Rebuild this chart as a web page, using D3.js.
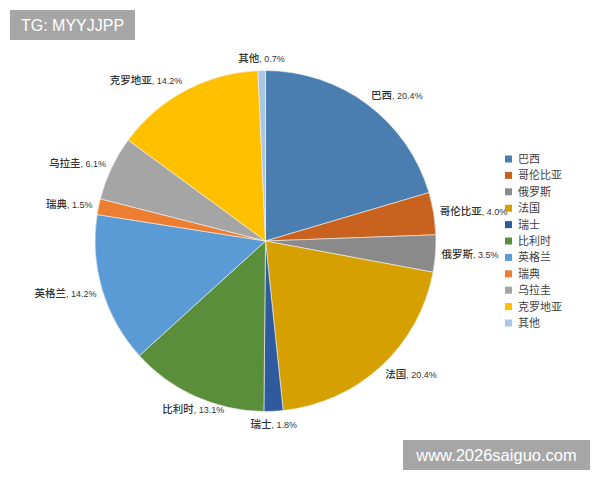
<!DOCTYPE html>
<html lang="zh">
<head>
    <meta charset="UTF-8">
    <title>Pie</title>
    <style>
        body { margin: 0; background: #fff; }
        svg { display: block; }
    </style>
</head>
<body>
    <svg id="chart" width="600" height="480"></svg>

    <script src="https://d3js.org/d3.v7.min.js"></script>
    <script>
        // chart data
        var countries = ['巴西', '哥伦比亚', '俄罗斯', '法国', '瑞士', '比利时', '英格兰', '瑞典', '乌拉圭', '克罗地亚', '其他'];
        var shares = [20.4, 4.0, 3.5, 20.4, 1.8, 13.1, 14.2, 1.5, 6.1, 14.2, 0.7];
        var colors = ['#4a7eb1', '#c9611f', '#8a8a8a', '#d6a100', '#2f5b9e', '#5a8e3a',
                      '#5b9bd5', '#ed7d31', '#a5a5a5', '#ffc000', '#a9c6e6'];

        var cjk = '"Noto Sans CJK SC", "Noto Sans", sans-serif';
        var latin = '"Liberation Sans", Arial, sans-serif';

        var svg = d3.select('#chart');
        var cx = 265.5, cy = 241, radius = 170.5;

        var pie = d3.pie().sort(null).value(function(d) { return d; });
        var arcs = pie(shares);
        var arc = d3.arc().innerRadius(0).outerRadius(radius);

        var g = svg.append('g')
            .attr('transform', 'translate(' + cx + ',' + cy + ')');

        g.selectAll('path')
            .data(arcs)
            .enter().append('path')
            .attr('d', arc)
            .attr('fill', function(d, i) { return colors[i]; })
            .attr('stroke', '#f4f4f4')
            .attr('stroke-width', 0.6);

        // data labels just outside the rim
        var pad = 6;
        g.selectAll('text.lbl')
            .data(arcs)
            .enter().append('text')
            .attr('class', 'lbl')
            .each(function(d, i) {
                var a = (d.startAngle + d.endAngle) / 2;
                var s = Math.sin(a), c = Math.cos(a);
                var x = (radius + pad) * s;
                var y = -(radius + pad) * c;
                var anchor = 'middle';
                if (s > 0.45) anchor = 'start';
                else if (s < -0.45) anchor = 'end';
                var dy;
                if (anchor === 'middle') dy = c > 0 ? -3 : 11;
                else dy = 3.5 - c * 5;
                var t = d3.select(this)
                    .attr('x', x)
                    .attr('y', y + dy)
                    .attr('text-anchor', anchor)
                    .attr('fill', '#333');
                t.append('tspan')
                    .style('font-family', cjk)
                    .style('font-size', '10.5px')
                    .style('font-weight', 500)
                    .text(countries[i]);
                t.append('tspan')
                    .style('font-family', latin)
                    .style('font-size', '9px')
                    .text(', ' + d3.format('.1f')(shares[i]) + '%');
            });

        // legend
        var legend = svg.append('g')
            .attr('transform', 'translate(505,159)');

        var item = legend.selectAll('g')
            .data(countries)
            .enter().append('g')
            .attr('transform', function(d, i) { return 'translate(0,' + (i * 16.4) + ')'; });

        item.append('rect')
            .attr('x', 0)
            .attr('y', -3.5)
            .attr('width', 7)
            .attr('height', 7)
            .attr('fill', function(d, i) { return colors[i]; });

        item.append('text')
            .attr('x', 13)
            .attr('y', 4)
            .style('font-family', cjk)
            .style('font-size', '11px')
            .attr('fill', '#404040')
            .text(function(d) { return d; });

        // watermark boxes
        svg.append('rect')
            .attr('x', 10).attr('y', 10)
            .attr('width', 125).attr('height', 30)
            .attr('fill', '#a6a6a6');
        svg.append('text')
            .attr('x', 72.5).attr('y', 31)
            .attr('text-anchor', 'middle')
            .style('font-family', latin)
            .style('font-size', '16px')
            .attr('fill', '#fff')
            .text('TG: MYYJJPP');

        svg.append('rect')
            .attr('x', 403).attr('y', 440)
            .attr('width', 187).attr('height', 30)
            .attr('fill', '#a6a6a6');
        svg.append('text')
            .attr('x', 496.5).attr('y', 461)
            .attr('text-anchor', 'middle')
            .style('font-family', latin)
            .style('font-size', '16.5px')
            .attr('fill', '#fff')
            .text('www.2026saiguo.com');
    </script>
</body>
</html>
